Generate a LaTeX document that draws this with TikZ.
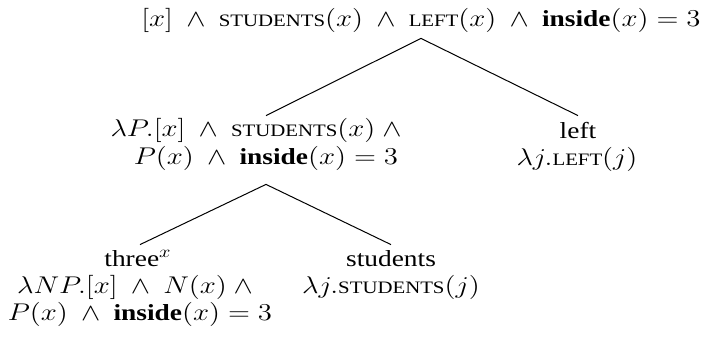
\documentclass[tikz,border=0pt]{standalone}
\usepackage[no-math]{fontspec}
\usepackage{graphicx}
\setmainfont{Liberation Serif}
\newcommand\fsc[1]{\mbox{\fontsize{10.4pt}{12pt}\selectfont\MakeUppercase{#1}}}
\newcommand\sq[1]{\scalebox{1}[0.84]{#1}}
\begin{document}
\begin{tikzpicture}[x=0.5pt,y=-0.5pt,
  lab/.style={inner sep=0pt,anchor=base,font=\fontsize{13.7pt}{16pt}\selectfont},
  edge/.style={draw=black,line width=0.5pt}]
\useasboundingbox (0,0) rectangle (708,343);
% root
\node[lab,text depth=6pt] (root) at (421,26) {\sq{$[x]\ \wedge\ \fsc{students}(x)\ \wedge\ \fsc{left}(x)\ \wedge\ \textbf{inside}(x) = 3$}};
% middle node
\node[lab,text height=10pt] (mid1) at (256,136) {\sq{$\lambda P.[x]\ \wedge\ \fsc{students}(x)\ \wedge$}};
\node[lab,text depth=10pt] (mid2) at (266,164) {\sq{$P(x)\ \wedge\ \textbf{inside}(x) = 3$}};
% left
\node[lab,text height=11pt] (left1) at (578,138) {\sq{left}};
\node[lab] (left2) at (577,165) {\sq{$\lambda j.\fsc{left}(j)$}};
% three
\node[lab,text height=10.5pt] (three1) at (138,266) {\sq{three$^x$}};
\node[lab] (three2) at (135,293) {\sq{$\lambda NP.[x]\ \wedge\ N(x)\ \wedge$}};
\node[lab] (three3) at (140,320) {\sq{$P(x)\ \wedge\ \textbf{inside}(x) = 3$}};
% students
\node[lab,text height=10.5pt] (stud1) at (391,266) {\sq{students}};
\node[lab] (stud2) at (391,293) {\sq{$\lambda j.\fsc{students}(j)$}};
% connectors
\draw[edge] (root.south) -- (mid1.north -| mid2);
\draw[edge] (root.south) -- (left1.north);
\draw[edge] (mid2.south) -- (three1.north -| three3);
\draw[edge] (mid2.south) -- (stud1.north);
\end{tikzpicture}
\end{document}
